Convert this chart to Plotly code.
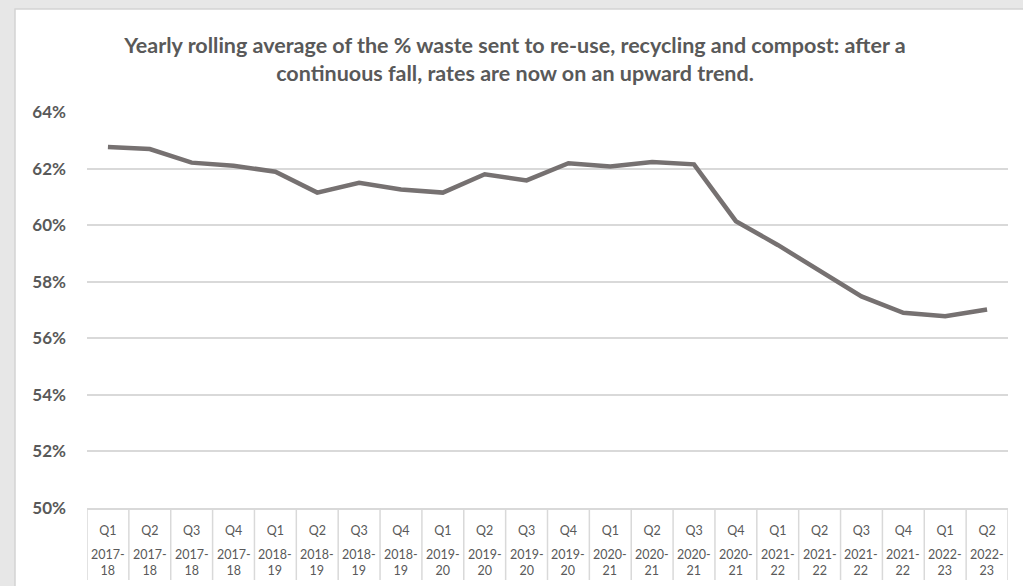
import plotly.graph_objects as go

quarters = ["Q1", "Q2", "Q3", "Q4", "Q1", "Q2", "Q3", "Q4", "Q1", "Q2", "Q3",
            "Q4", "Q1", "Q2", "Q3", "Q4", "Q1", "Q2", "Q3", "Q4", "Q1", "Q2"]
years = ["2017-18", "2017-18", "2017-18", "2017-18", "2018-19", "2018-19",
         "2018-19", "2018-19", "2019-20", "2019-20", "2019-20", "2019-20",
         "2020-21", "2020-21", "2020-21", "2020-21", "2021-22", "2021-22",
         "2021-22", "2021-22", "2022-23", "2022-23"]
rate_pct = [62.76, 62.69, 62.21, 62.10, 61.89, 61.15, 61.50, 61.26, 61.15, 61.80,
            61.58, 62.19, 62.07, 62.23, 62.15, 60.14, 59.30, 58.40, 57.48, 56.90,
            56.78, 57.02]
y_ticks = [50, 52, 54, 56, 58, 60, 62, 64]

title = ("Yearly rolling average of the % waste sent to re-use, recycling and compost: after a"
         "<br>continuous fall, rates are now on an upward trend.")

xpos = list(range(len(quarters)))

FONT = "Lato, Roboto, sans-serif"
GREY_TXT = "#595959"
GRID = "#d9d9d9"

fig = go.Figure()
fig.add_trace(go.Scatter(
    x=xpos, y=rate_pct, mode="lines",
    line=dict(color="#767171", width=4.5),
    hoverinfo="skip", showlegend=False,
))

shapes = [
    # white chart panel on grey surround
    dict(type="rect", xref="paper", yref="paper",
         x0=(15 - 87) / 921, x1=(1030 - 87) / 921,
         y0=-0.4, y1=(508 - 9) / 396,
         fillcolor="white", line=dict(color="#d4d4d4", width=1.5), layer="below"),
]
# table separators under the axis
for i in range(len(quarters) + 1):
    shapes.append(dict(type="line", xref="x", yref="paper",
                       x0=i - 0.5, x1=i - 0.5, y0=0, y1=-72 / 396,
                       line=dict(color=GRID, width=1.5), layer="above"))

# second level of the category axis (financial year, wrapped)
annotations = [
    dict(x=i, xref="x", y=-(562 - 508) / 396, yref="paper",
         text=f"{y.split('-')[0]}-<br>{y.split('-')[1]}", showarrow=False,
         xanchor="center", yanchor="middle",
         font=dict(size=12.5, color=GREY_TXT, family=FONT))
    for i, y in zip(xpos, years)
]

fig.update_layout(
    width=1023, height=586, autosize=False,
    margin=dict(l=87, r=15, t=112, b=78, autoexpand=False),
    paper_bgcolor="#e7e7e7",
    plot_bgcolor="rgba(0,0,0,0)",
    font=dict(family=FONT, color=GREY_TXT),
    title=dict(text=f"<b>{title}</b>", xref="container", yref="container",
               x=515 / 1023, xanchor="center", y=1 - 53 / 586, yanchor="top",
               font=dict(size=21.5, color=GREY_TXT, family=FONT)),
    xaxis=dict(range=[-0.5, len(quarters) - 0.5], automargin=False,
               tickmode="array", tickvals=xpos, ticktext=quarters,
               tickfont=dict(size=12.5, color=GREY_TXT), showgrid=False,
               showline=True, linecolor=GRID, linewidth=1.5,
               ticks="", ticklabelstandoff=10, zeroline=False, fixedrange=True),
    yaxis=dict(range=[50, 64], tickmode="array", tickvals=y_ticks, automargin=False,
               ticktext=[f"<b>{v}%</b>" for v in y_ticks],
               tickfont=dict(size=17, color=GREY_TXT),
               showgrid=True, gridcolor=GRID, gridwidth=1.5,
               zeroline=False, ticks="", ticklabelstandoff=20, fixedrange=True),
    shapes=shapes,
    annotations=annotations,
)

fig.write_html("out.html", config={"displayModeBar": False},
               post_script="document.body.style.margin='0';")
